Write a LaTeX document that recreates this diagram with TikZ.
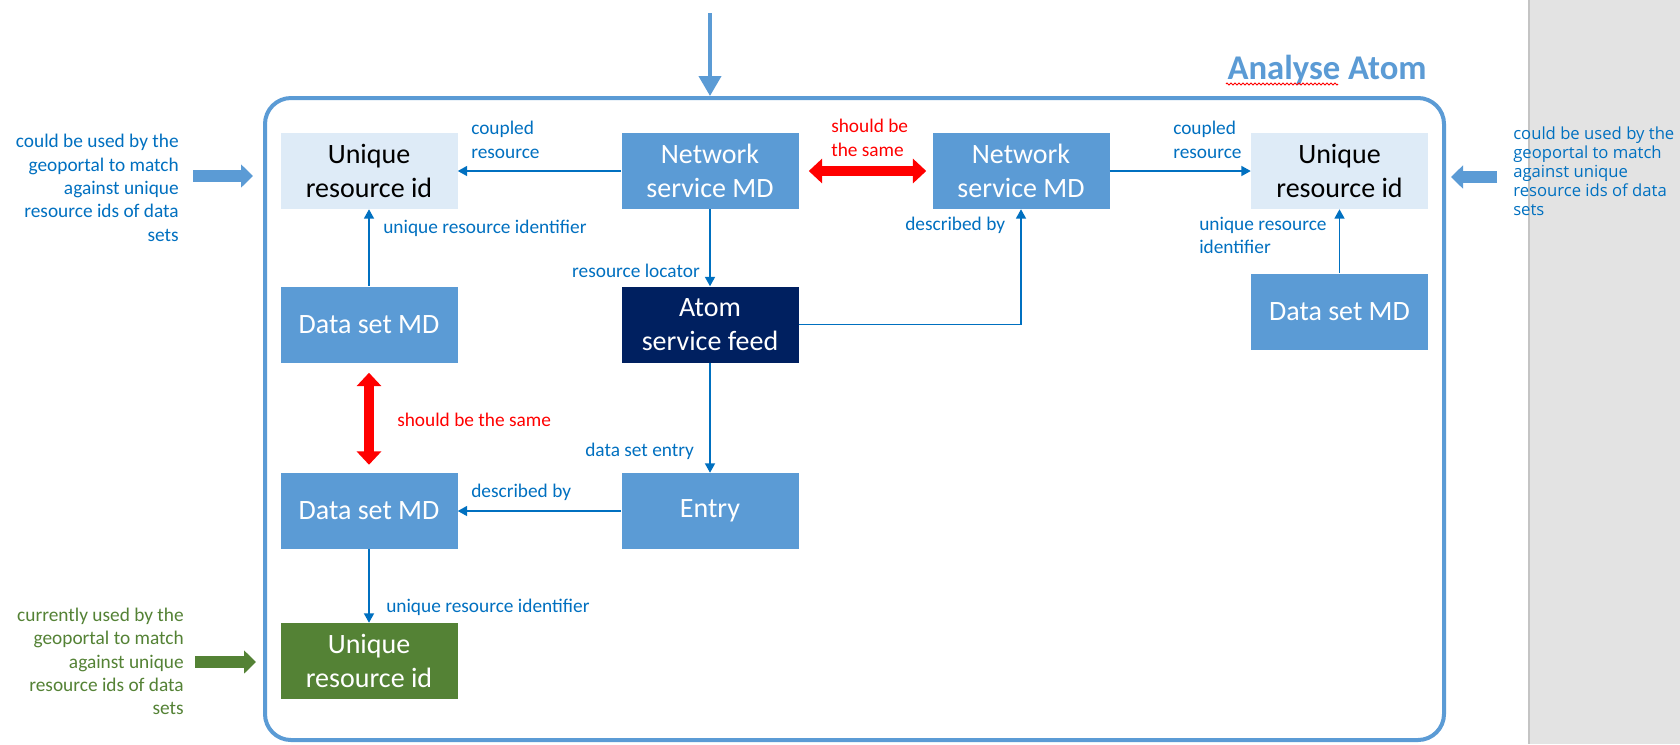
\documentclass[tikz,border=0pt]{standalone}
\usepackage{fontspec}
\setmainfont{Carlito}
\newfontfamily\osans{Open Sans}
\usetikzlibrary{arrows.meta,decorations.pathmorphing}
\definecolor{boxblue}{HTML}{5B9BD5}
\definecolor{lightfill}{HTML}{DEEBF7}
\definecolor{navy}{HTML}{002060}
\definecolor{dgreen}{HTML}{548235}
\definecolor{lblue}{HTML}{0070C0}
\definecolor{graybg}{HTML}{E3E3E3}
\definecolor{grayline}{HTML}{C4C4C4}
\begin{document}
\begin{tikzpicture}[x=0.75pt,y=-0.75pt,
  mdbox/.style={minimum width=132.75pt,minimum height=57pt,inner sep=0pt,align=center,
    font=\fontsize{21}{26}\selectfont,text=white,fill=boxblue},
  uribox/.style={mdbox,fill=lightfill,text=black},
  navybox/.style={mdbox,fill=navy},
  greenbox/.style={mdbox,fill=dgreen},
  conn/.style={draw=lblue,line width=1.1pt,-{Triangle[width=7.5pt,length=7pt]}},
  lbl/.style={text=lblue,inner sep=0pt,font=\fontsize{14.5}{17.5}\selectfont,align=left,anchor=west},
  redlbl/.style={lbl,text=red},
  redarrow/.style={draw=red,line width=7pt,{Triangle[width=18pt,length=10pt]}-{Triangle[width=18pt,length=10pt]}},
  fatarrow/.style={line width=9pt,-{Triangle[width=17pt,length=9pt]}},
  frame/.style={draw=boxblue,line width=3pt,rounded corners=19.5pt,minimum width=884.25pt,minimum height=481.5pt,inner sep=0pt},
  sidetext/.style={inner sep=0pt,font=\fontsize{14.5}{17.5}\selectfont,align=right,anchor=east}
]
% background and page margins
\fill[white] (0,0) rectangle (1680,744);
\useasboundingbox (0,0) rectangle (1680,744);
\fill[graybg] (1529,0) rectangle (1680,744);
\draw[grayline,line width=1.2pt] (1529,0) -- (1529,744);

% outer frame and title
\node[frame] (frame) at (854.5,419) {};
\node[text=boxblue,inner sep=0pt,font=\fontsize{26}{30}\bfseries\selectfont] (title) at (1327,70) {Analyse Atom};
\draw[red,line width=0.6pt,decorate,decoration={zigzag,segment length=3pt,amplitude=0.8pt}] (1226,84) -- (1338,84);

% top arrow
\coordinate (topstart) at (710,13);
\draw[boxblue,line width=3pt,-{Triangle[width=16.5pt,length=15pt]}] (topstart) -- (topstart |- frame.north);

% boxes
\node[uribox] (uriL) at (369,171) {Unique\\resource id};
\node[mdbox] (nsL) at (710,171) {Network\\service MD};
\node[mdbox] (dsT) at (369,324.5) {Data set MD};
\node[navybox] (atom) at (710,324.5) {Atom\\service feed};
\node[mdbox] (nsR) at (1021,171) {Network\\service MD};
\node[uribox] (uriR) at (1339.5,171) {Unique\\resource id};
\node[mdbox] (dsR) at (1339.5,311.5) {Data set MD};
\node[mdbox] (dsB) at (369,511) {Data set MD};
\node[mdbox] (entry) at (710,511) {Entry};
\node[greenbox] (uriG) at (369,661) {Unique\\resource id};

% connectors
\draw[conn] (nsL.west) -- (uriL.east);
\draw[conn] (dsT.north) -- (uriL.south);
\draw[conn] (nsL.south) -- (atom.north);
\draw[conn] (atom.east) -| (nsR.south);
\draw[conn] (nsR.east) -- (uriR.west);
\draw[conn] (dsR.north) -- (uriR.south);
\draw[conn] (atom.south) -- (entry.north);
\draw[conn] (entry.west) -- (dsB.east);
\draw[conn] (dsB.south) -- (uriG.north);

% red "should be the same" arrows
\draw[redarrow,shorten <=7.5pt,shorten >=4.5pt] (nsL.east) -- (nsR.west);
\draw[redarrow,shorten <=7.5pt,shorten >=6pt] (dsT.south) -- (dsB.north);

% connector labels
\node[lbl] (l1) at (471,140) {coupled\\resource};
\node[lbl] (l2) at (383,228) {unique resource identifier};
\node[lbl,anchor=east] (l3) at (700,271) {resource locator};
\node[redlbl] (l4) at (831,138) {should be\\the same};
\node[lbl] (l5) at (905,225) {described by};
\node[lbl] (l6) at (1173,140) {coupled\\resource};
\node[lbl] (l7) at (1199,235.5) {unique resource\\identifier};
\node[redlbl] (l8) at (397,420) {should be the same};
\node[lbl] (l9) at (585,451) {data set entry};
\node[lbl] (l10) at (471,492) {described by};
\node[lbl] (l11) at (386,607) {unique resource identifier};

% side notes and fat arrows
\node[sidetext,text=lblue] (noteL) at (179,188) {could be used by the\\geoportal to match\\against unique\\resource ids of data\\sets};
\coordinate (lA) at (193,176);
\coordinate (lB) at (253,176);
\draw[fatarrow,boxblue] (lA) -- (lB);

\node[sidetext,text=dgreen] (noteG) at (184,661.5) {currently used by the\\geoportal to match\\against unique\\resource ids of data\\sets};
\coordinate (gA) at (195,662);
\coordinate (gB) at (256,662);
\draw[fatarrow,dgreen] (gA) -- (gB);

\node[inner sep=0pt,anchor=west,align=left,text=lblue,font=\osans\fontsize{12.5}{14.3}\selectfont] (noteR) at (1513,171.5) {could be used by the\\geoportal to match\\against unique\\resource ids of data\\sets};
\coordinate (rA) at (1497,177);
\coordinate (rB) at (1451,177);
\draw[fatarrow,boxblue] (rA) -- (rB);
\end{tikzpicture}
\end{document}
